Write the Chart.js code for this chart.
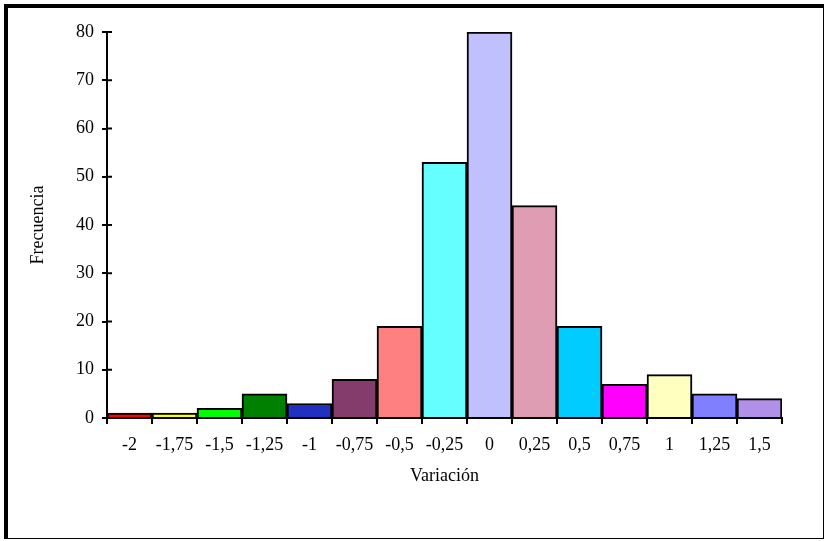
<!DOCTYPE html>
<html>
<head>
<meta charset="utf-8">
<script src="https://cdn.jsdelivr.net/npm/chart.js@4/dist/chart.umd.min.js"></script>
<style>
  html, body { margin: 0; padding: 0; background: #fff; }
  #c { display: block; }
</style>
</head>
<body>
<canvas id="c" width="826" height="541"></canvas>
<script>
// Histograma de variación

const categories = ["-2", "-1,75", "-1,5", "-1,25", "-1", "-0,75", "-0,5", "-0,25", "0", "0,25", "0,5", "0,75", "1", "1,25", "1,5"];
const frecuencia = [1, 1, 2, 5, 3, 8, 19, 53, 80, 44, 19, 7, 9, 5, 4];
const barColors = ["#ff0000", "#ffff00", "#00ff00", "#008000", "#2030c0", "#843c6c", "#ff8080", "#66ffff",
  "#c0c0ff", "#df9db4", "#00ccff", "#ff00ff", "#ffffc0", "#8080ff", "#b090e8"];
const yTicks = [0, 10, 20, 30, 40, 50, 60, 70, 80];

const font = { family: "'Liberation Serif', 'Times New Roman', serif", size: 18 };

// marco exterior y marcas interiores del eje Y
const framePlugin = {
  id: "frame",
  afterDraw(chart) {
    const ctx = chart.ctx;
    const y = chart.scales.y;
    ctx.save();
    ctx.fillStyle = "#000";
    ctx.fillRect(4, 4, 4, 535);
    ctx.fillRect(4, 4, 820, 4);
    ctx.fillRect(823, 4, 1, 535);
    ctx.fillRect(4, 538, 820, 1);
    ctx.strokeStyle = "#000";
    ctx.lineWidth = 2;
    yTicks.forEach(v => {
      const py = y.getPixelForValue(v);
      ctx.beginPath();
      ctx.moveTo(y.right, py);
      ctx.lineTo(y.right + 5, py);
      ctx.stroke();
    });
    ctx.restore();
  }
};

new Chart(document.getElementById("c"), {
  type: "bar",
  data: {
    labels: categories,
    datasets: [{
      label: "Frecuencia",
      data: frecuencia,
      backgroundColor: barColors,
      borderColor: "#000",
      borderWidth: 2,
      barPercentage: 1,
      categoryPercentage: 1
    }]
  },
  options: {
    responsive: false,
    animation: false,
    devicePixelRatio: 1,
    layout: { padding: { left: 0, top: 32, right: 44, bottom: 0 } },
    plugins: { legend: { display: false }, tooltip: { enabled: false } },
    scales: {
      x: {
        offset: true,
        grid: { offset: true, drawOnChartArea: false, color: "#000", lineWidth: 2, tickLength: 6 },
        border: { color: "#000", width: 2 },
        ticks: { color: "#000", font: font, padding: 10, maxRotation: 0, autoSkip: false },
        title: { display: true, text: "Variación", color: "#000", font: font, padding: { top: 54, bottom: 54 } },
        afterFit(scale) { scale.height = 123; }
      },
      y: {
        min: 0,
        max: 80,
        ticks: { stepSize: 10, color: "#000", font: font, padding: 8 },
        grid: { drawOnChartArea: false, color: "#000", lineWidth: 2, tickLength: 5 },
        border: { color: "#000", width: 2 },
        title: { display: true, text: "Frecuencia", color: "#000", font: font, padding: { top: 27, bottom: 27 } },
        afterFit(scale) { scale.width = 107; }
      }
    }
  },
  plugins: [framePlugin]
});
</script>
</body>
</html>
